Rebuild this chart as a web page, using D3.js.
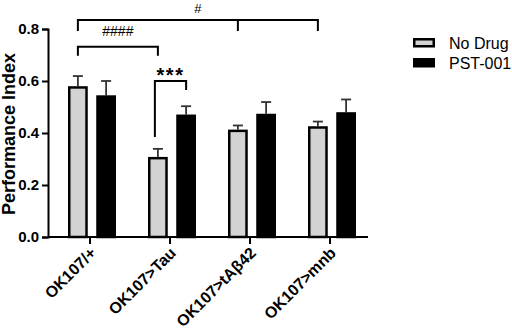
<!DOCTYPE html>
<html>
<head>
<meta charset="utf-8">
<script src="https://cdn.jsdelivr.net/npm/d3@7"></script>
<style>
  body { margin: 0; background: #fff; }
  svg { display: block; font-family: "Liberation Sans", Arial, sans-serif; }
</style>
</head>
<body>
<svg width="512" height="330"></svg>
<script>
var categories = ["OK107/+", "OK107>Tau", "OK107>tA\u03b242", "OK107>mnb"];
var series = ["No Drug", "PST-001"];
var noDrug = [0.58, 0.308, 0.413, 0.426];
var noDrugErr = [0.039, 0.031, 0.016, 0.018];
var pst001 = [0.545, 0.471, 0.474, 0.48];
var pst001Err = [0.055, 0.032, 0.045, 0.049];
var yTicks = [0, 0.2, 0.4, 0.6, 0.8];

var svg = d3.select("svg");

var x = d3.scaleBand().domain(categories).range([50, 370]);
var xSub = d3.scaleBand().domain(series).range([18, 66]).paddingInner(0.3);
var y = d3.scaleLinear().domain([0, 0.8]).range([237, 29]);

var colors = {"No Drug": "#d3d3d3", "PST-001": "#000"};

var rows = [];
categories.forEach(function(c, i) {
    rows.push({cat: c, s: "No Drug", v: noDrug[i], e: noDrugErr[i]});
    rows.push({cat: c, s: "PST-001", v: pst001[i], e: pst001Err[i]});
});

function cx(cat, s) { return x(cat) + xSub(s) + xSub.bandwidth() / 2; }

// error bars, upward only
var eb = svg.append("g").selectAll("g").data(rows).enter().append("g")
    .attr("stroke", "#333").attr("stroke-width", 1.8);
eb.append("line")
    .attr("x1", function(d) { return cx(d.cat, d.s); })
    .attr("x2", function(d) { return cx(d.cat, d.s); })
    .attr("y1", function(d) { return y(d.v); })
    .attr("y2", function(d) { return y(d.v + d.e); });
eb.append("line")
    .attr("x1", function(d) { return cx(d.cat, d.s) - 5; })
    .attr("x2", function(d) { return cx(d.cat, d.s) + 5; })
    .attr("y1", function(d) { return y(d.v + d.e); })
    .attr("y2", function(d) { return y(d.v + d.e); });

// bars
svg.append("g").selectAll("rect").data(rows).enter().append("rect")
    .attr("x", function(d) { return x(d.cat) + xSub(d.s) + 1.25; })
    .attr("width", xSub.bandwidth() - 2.5)
    .attr("y", function(d) { return y(d.v) + 1.25; })
    .attr("height", function(d) { return y(0) - y(d.v) - 1.25; })
    .attr("fill", function(d) { return colors[d.s]; })
    .attr("stroke", "#000")
    .attr("stroke-width", 2.5);

// y axis
var yAxis = svg.append("g")
    .attr("transform", "translate(48,0)")
    .call(d3.axisLeft(y).tickValues(yTicks).tickFormat(d3.format(".1f")).tickSize(6).tickPadding(3));
yAxis.select(".domain").attr("stroke-width", 2);
yAxis.selectAll(".tick line").attr("stroke-width", 2);
yAxis.selectAll("text").attr("font-size", 15).attr("font-weight", "bold").attr("fill", "#000")
    .attr("font-family", "Liberation Sans, Arial, sans-serif");

// x axis
var xAxis = svg.append("g")
    .attr("transform", "translate(0,237)")
    .call(d3.axisBottom(x).tickSize(7).tickSizeOuter(0).tickFormat(""));
xAxis.select(".domain").attr("d", "M48,0H368").attr("stroke-width", 2);
xAxis.selectAll(".tick line").attr("stroke-width", 2);

svg.append("g").selectAll("text").data(categories).enter().append("text")
    .attr("transform", function(d) {
        return "translate(" + (x(d) + x.bandwidth() / 2 + 7) + ",254) rotate(-45)";
    })
    .attr("text-anchor", "end")
    .attr("font-size", 16)
    .attr("font-weight", "bold")
    .text(function(d) { return d; });

// y label
svg.append("text")
    .attr("transform", "translate(15,134) rotate(-90)")
    .attr("text-anchor", "middle")
    .attr("font-size", 18)
    .attr("font-weight", "bold")
    .text("Performance Index");

// significance brackets
var br = svg.append("g").attr("fill", "none").attr("stroke", "#000").attr("stroke-width", 2);

var h1 = 20;
br.append("path").attr("d",
    "M" + cx(categories[0], "No Drug") + "," + (h1 + 11) + "V" + h1 +
    "H" + cx(categories[3], "No Drug") + "V" + (h1 + 11) +
    "M" + cx(categories[2], "No Drug") + "," + h1 + "V" + (h1 + 11));
svg.append("text").attr("x", (cx(categories[0], "No Drug") + cx(categories[3], "No Drug")) / 2)
    .attr("y", 13).attr("text-anchor", "middle").attr("font-size", 13).text("#");

var h2 = 46.7;
br.append("path").attr("d",
    "M" + cx(categories[0], "No Drug") + "," + (h2 + 9) + "V" + h2 +
    "H" + cx(categories[1], "No Drug") + "V" + (h2 + 9));
svg.append("text").attr("x", (cx(categories[0], "No Drug") + cx(categories[1], "No Drug")) / 2)
    .attr("y", 36).attr("text-anchor", "middle").attr("font-size", 14).text("####");

var h3 = 81;
br.append("path").attr("d",
    "M" + (cx(categories[1], "No Drug") - 3) + ",137V" + h3 +
    "H" + cx(categories[1], "PST-001") + "V90");
svg.append("text").attr("x", (cx(categories[1], "No Drug") - 3 + cx(categories[1], "PST-001")) / 2)
    .attr("y", 82).attr("text-anchor", "middle").attr("font-size", 20).attr("font-weight", "bold")
    .attr("letter-spacing", 1.5).text("***");

// legend
var lg = svg.append("g").selectAll("g").data(series).enter().append("g")
    .attr("transform", function(d, i) { return "translate(413," + (38 + i * 20) + ")"; });
lg.append("rect")
    .attr("x", 1.25).attr("y", 1.25).attr("width", 19.5).attr("height", 7)
    .attr("fill", function(d) { return colors[d]; })
    .attr("stroke", "#000").attr("stroke-width", 2.5);
lg.append("text")
    .attr("x", 36).attr("y", 11)
    .attr("font-size", 16)
    .text(function(d) { return d; });
</script>
</body>
</html>
